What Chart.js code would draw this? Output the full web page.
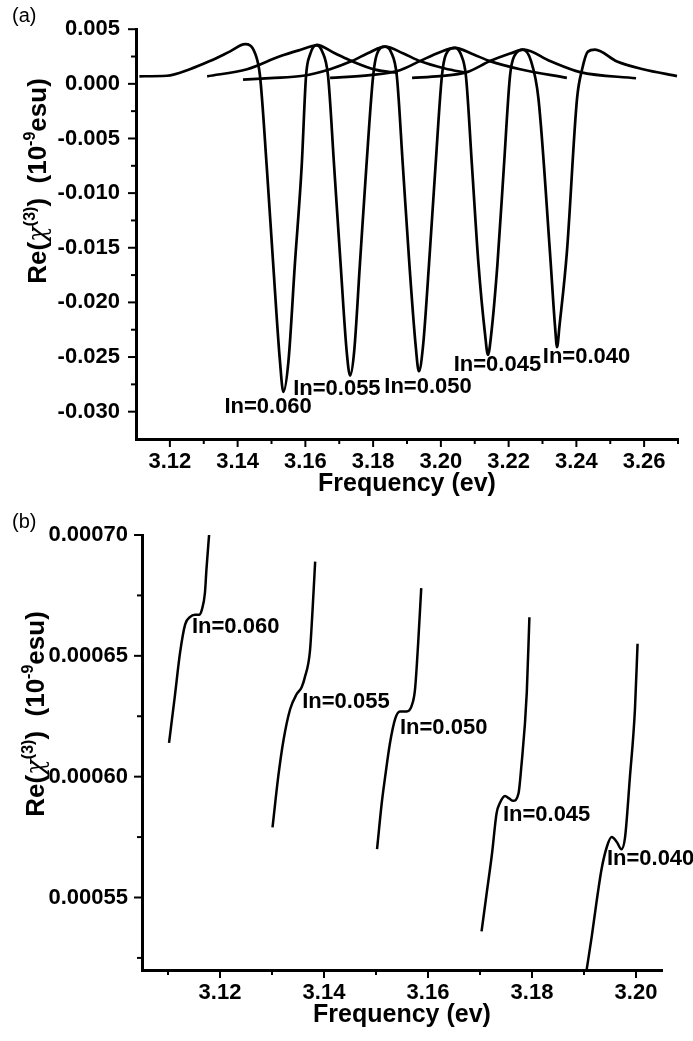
<!DOCTYPE html>
<html lang="en">
<head>
<meta charset="utf-8">
<title>Re(χ(3)) vs frequency</title>
<script src="https://cdn.jsdelivr.net/npm/chart.js@4.4.1/dist/chart.umd.min.js"></script>
<style>
  html, body { margin: 0; padding: 0; background: #fff; }
  .panel { position: absolute; left: 0; }
  #panelA { top: 0; }
  #panelB { top: 505px; }
</style>
</head>
<body>
<div class="panel" id="panelA"><canvas id="chartA" width="693" height="505"></canvas></div>
<div class="panel" id="panelB"><canvas id="chartB" width="693" height="536"></canvas></div>
<script>
// ---------- panel (a): full resonance, one curve per In content ----------
const freqA060 = [3.1110, 3.1191, 3.1259, 3.1318, 3.1378, 3.1422, 3.1451, 3.1466, 3.1486, 3.1505, 3.1525, 3.1535, 3.1550, 3.1569, 3.1589, 3.1602, 3.1614, 3.1633, 3.1687, 3.1737, 3.1806, 3.1873];
const valA060  = [0.00069, 0.00074, 0.00134, 0.00208, 0.00297, 0.00363, 0.00283, 0.00074, -0.0076, -0.0165, -0.0254, -0.0282, -0.0254, -0.0165, -0.0076, 0.00074, 0.0027, 0.00357, 0.0028, 0.00208, 0.0013, 0.0010];

const freqA055 = [3.1310, 3.1428, 3.1525, 3.1584, 3.1634, 3.1649, 3.1667, 3.1685, 3.1704, 3.1722, 3.1732, 3.1744, 3.1761, 3.1780, 3.1800, 3.1811, 3.1835, 3.1888, 3.1938, 3.2012, 3.2077];
const valA055  = [0.00069, 0.00134, 0.00253, 0.0031, 0.00352, 0.0030, 0.00071, -0.0076, -0.0165, -0.0245, -0.0267, -0.0245, -0.0165, -0.0076, 0.00071, 0.0027, 0.0034, 0.0028, 0.00208, 0.0014, 0.0010];

const freqA050 = [3.1416, 3.1496, 3.1593, 3.1673, 3.1737, 3.1791, 3.1835, 3.1853, 3.1870, 3.1888, 3.1907, 3.1926, 3.1935, 3.1947, 3.1965, 3.1984, 3.2003, 3.2015, 3.2042, 3.2095, 3.2145, 3.2234, 3.2372];
const valA050  = [0.00038, 0.00053, 0.00074, 0.00134, 0.00208, 0.0029, 0.0034, 0.0029, 0.00071, -0.0076, -0.0165, -0.0241, -0.0263, -0.0241, -0.0165, -0.0076, 0.00071, 0.0027, 0.0033, 0.0027, 0.00208, 0.00134, 0.00055];

const freqA045 = [3.1673, 3.1791, 3.1879, 3.1938, 3.1997, 3.2042, 3.2059, 3.2074, 3.2092, 3.2111, 3.2130, 3.2139, 3.2149, 3.2167, 3.2186, 3.2204, 3.2216, 3.2245, 3.2322, 3.2411, 3.2576];
const valA045  = [0.00055, 0.0008, 0.00125, 0.00208, 0.0029, 0.0033, 0.0027, 0.00071, -0.0076, -0.0165, -0.0228, -0.0248, -0.0228, -0.0165, -0.0076, 0.00071, 0.0025, 0.00313, 0.00208, 0.00107, 0.00051];

const freqA040 = [3.1915, 3.1997, 3.2077, 3.2145, 3.2204, 3.2242, 3.2266, 3.2288, 3.2322, 3.2337, 3.2343, 3.2350, 3.2372, 3.2402, 3.2417, 3.2434, 3.2455, 3.2520, 3.2597, 3.2697];
const valA040  = [0.00055, 0.0007, 0.00107, 0.00208, 0.00277, 0.00313, 0.0021, -0.00134, -0.0154, -0.0222, -0.0241, -0.0222, -0.0154, -0.00134, 0.00134, 0.00295, 0.00313, 0.00205, 0.00134, 0.00071];

const curveLabelsA = ['In=0.060', 'In=0.055', 'In=0.050', 'In=0.045', 'In=0.040'];
const labelFreqA = [3.149, 3.1693, 3.1962, 3.2167, 3.243];
const labelValA  = [-0.02955, -0.0279, -0.02773, -0.02571, -0.0250];

const xMajorA = [3.12, 3.14, 3.16, 3.18, 3.20, 3.22, 3.24, 3.26];
const xMinorA = [3.13, 3.15, 3.17, 3.19, 3.21, 3.23, 3.25, 3.27];
const xTickLabelsA = ['3.12', '3.14', '3.16', '3.18', '3.20', '3.22', '3.24', '3.26'];
const yMajorA = [-0.030, -0.025, -0.020, -0.015, -0.010, -0.005, 0.000, 0.005];
const yMinorA = [-0.0275, -0.0225, -0.0175, -0.0125, -0.0075, -0.0025, 0.0025];
const yTickLabelsA = ['-0.030', '-0.025', '-0.020', '-0.015', '-0.010', '-0.005', '0.000', '0.005'];

// ---------- panel (b): zoom on the low-frequency side ----------
const freqB060 = [3.1102, 3.1113, 3.1123, 3.1133, 3.1142, 3.1152, 3.1160, 3.1165, 3.1171, 3.1174, 3.1179];
const valB060  = [0.000614, 0.000633, 0.000651, 0.000663, 0.000666, 0.000667, 0.000667, 0.000669, 0.000676, 0.000686, 0.000700];

const freqB055 = [3.1301, 3.1312, 3.1322, 3.1335, 3.1347, 3.1357, 3.1363, 3.1373, 3.1378, 3.1383];
const valB055  = [0.000579, 0.000600, 0.000615, 0.000628, 0.000634, 0.000637, 0.000641, 0.000652, 0.000669, 0.000689];

const freqB050 = [3.1502, 3.1511, 3.1517, 3.1527, 3.1537, 3.1546, 3.1559, 3.1568, 3.1575, 3.1581, 3.1587];
const valB050  = [0.000570, 0.000589, 0.000599, 0.000614, 0.000624, 0.000627, 0.000627, 0.000629, 0.000636, 0.000655, 0.000678];

const freqB045 = [3.1703, 3.1713, 3.1723, 3.1732, 3.1738, 3.1748, 3.1756, 3.1764, 3.1774, 3.1779, 3.1790, 3.1795];
const valB045  = [0.000536, 0.000552, 0.000568, 0.000585, 0.000589, 0.000592, 0.000591, 0.000590, 0.000593, 0.000603, 0.000635, 0.000666];

const freqB040 = [3.1905, 3.1915, 3.1924, 3.1934, 3.1944, 3.1953, 3.1963, 3.1972, 3.1979, 3.1988, 3.1998, 3.2003];
const valB040  = [0.000520, 0.000534, 0.000548, 0.000562, 0.000571, 0.000575, 0.000573, 0.000570, 0.000575, 0.000599, 0.000628, 0.000655];

const curveLabelsB = ['In=0.060', 'In=0.055', 'In=0.050', 'In=0.045', 'In=0.040'];
const labelFreqB = [3.1146, 3.1358, 3.1546, 3.1744, 3.1944];
const labelValB  = [0.000662, 0.000631, 0.000620, 0.000584, 0.000566];

const xMajorB = [3.12, 3.14, 3.16, 3.18, 3.20];
const xMinorB = [3.11, 3.13, 3.15, 3.17, 3.19];
const xTickLabelsB = ['3.12', '3.14', '3.16', '3.18', '3.20'];
const yMajorB = [0.00055, 0.00060, 0.00065, 0.00070];
const yMinorB = [0.000525, 0.000575, 0.000625, 0.000675];
const yTickLabelsB = ['0.00055', '0.00060', '0.00065', '0.00070'];

const FONT = '"Liberation Sans", Arial, sans-serif';
Chart.defaults.font.family = FONT;
Chart.defaults.color = '#000';

// rotated y title with superscripts: Re(χ(3))  (10-9esu)
function drawYTitle(ctx, baseX, centerY, size) {
    const main = `bold ${size}px ${FONT}`;
    const sup = `bold ${Math.round(size * 0.62)}px ${FONT}`;
    const parts = [
        ['Re(', main, 0],
        ['\u03C7', `italic ${size}px "DejaVu Serif", serif`, 0],
        ['(3)', sup, -0.42 * size],
        [')', main, 0],
        ['  (10', main, 0],
        ['-9', sup, -0.42 * size],
        ['esu)', main, 0]
    ];
    ctx.save();
    ctx.translate(baseX, centerY);
    ctx.rotate(-Math.PI / 2);
    ctx.textAlign = 'left';
    ctx.textBaseline = 'alphabetic';
    let total = 0;
    parts.forEach(p => { ctx.font = p[1]; total += ctx.measureText(p[0]).width; });
    let cx = -total / 2;
    parts.forEach(p => {
        ctx.font = p[1];
        ctx.fillText(p[0], cx, p[2]);
        cx += ctx.measureText(p[0]).width;
    });
    ctx.restore();
}

// tick marks (outward, major longer), curve labels, panel letter, y title
const decorPlugin = {
    id: 'decor',
    afterDraw(chart, args, o) {
        const { ctx, chartArea: area, scales: { x, y } } = chart;
        ctx.save();
        ctx.strokeStyle = '#000';
        ctx.lineWidth = 2;
        x.ticks.forEach(t => {
            const px = x.getPixelForValue(t.value);
            const len = o.xMajor.includes(t.value) ? 8 : 5;
            ctx.beginPath();
            ctx.moveTo(px, area.bottom);
            ctx.lineTo(px, area.bottom + len);
            ctx.stroke();
        });
        y.ticks.forEach(t => {
            const py = y.getPixelForValue(t.value);
            const len = o.yMajor.includes(t.value) ? 8 : 5;
            ctx.beginPath();
            ctx.moveTo(area.left, py);
            ctx.lineTo(area.left - len, py);
            ctx.stroke();
        });

        ctx.fillStyle = '#000';
        ctx.font = `bold 22px ${FONT}`;
        ctx.textAlign = o.labelAlign;
        ctx.textBaseline = 'middle';
        o.labels.forEach((txt, i) => {
            ctx.fillText(txt, x.getPixelForValue(o.labelFreq[i]), y.getPixelForValue(o.labelVal[i]));
        });

        ctx.font = `20px ${FONT}`;
        ctx.textAlign = 'left';
        ctx.fillText(o.panel, 12, o.panelY);

        drawYTitle(ctx, o.titleX, o.titleY, 26);
        ctx.restore();
    }
};

function tickLabel(major, labels, v) {
    const i = major.indexOf(v);
    return i >= 0 ? labels[i] : '';
}

function makeChart(canvasId, p) {
    const datasets = p.series.map(s => ({
        data: s[0].map((f, i) => ({ x: f, y: s[1][i] })),
        borderColor: '#000',
        borderWidth: p.lineWidth,
        pointRadius: 0,
        fill: false,
        cubicInterpolationMode: 'monotone'
    }));
    const xTicks = [...p.xMajor, ...p.xMinor].sort((a, b) => a - b);
    const yTicks = [...p.yMajor, ...p.yMinor].sort((a, b) => a - b);

    return new Chart(document.getElementById(canvasId), {
        type: 'line',
        data: { datasets },
        options: {
            responsive: false,
            animation: false,
            devicePixelRatio: 1,
            layout: { padding: p.padding },
            plugins: {
                legend: { display: false },
                tooltip: { enabled: false },
                decor: {
                    xMajor: p.xMajor, yMajor: p.yMajor,
                    labels: p.labels, labelFreq: p.labelFreq, labelVal: p.labelVal,
                    labelAlign: p.labelAlign,
                    panel: p.panel, panelY: p.panelY,
                    titleX: p.titleX, titleY: p.titleY
                }
            },
            scales: {
                x: {
                    type: 'linear',
                    min: p.xMin,
                    max: p.xMax,
                    grid: { display: false, drawTicks: false },
                    border: { display: true, color: '#000', width: 3 },
                    afterBuildTicks: s => { s.ticks = xTicks.map(v => ({ value: v })); },
                    afterFit: s => { s.height = p.xAxisHeight; },
                    ticks: {
                        autoSkip: false, maxRotation: 0, minRotation: 0, padding: 10,
                        font: { size: 22, weight: 'bold' },
                        callback: v => tickLabel(p.xMajor, p.xLabels, v)
                    },
                    title: {
                        display: true,
                        text: 'Frequency (ev)',
                        font: { size: 25, weight: 'bold' },
                        padding: { top: 0, bottom: p.xTitlePad }
                    }
                },
                y: {
                    type: 'linear',
                    min: p.yMin,
                    max: p.yMax,
                    grid: { display: false, drawTicks: false },
                    border: { display: true, color: '#000', width: 3 },
                    afterBuildTicks: s => { s.ticks = yTicks.map(v => ({ value: v })); },
                    afterFit: s => { s.width = p.yAxisWidth; },
                    ticks: {
                        autoSkip: false, padding: p.yTickPad,
                        font: { size: 22, weight: 'bold' },
                        callback: v => tickLabel(p.yMajor, p.yLabels, v)
                    }
                }
            }
        },
        plugins: [decorPlugin]
    });
}

makeChart('chartA', {
    series: [[freqA060, valA060], [freqA055, valA055], [freqA050, valA050], [freqA045, valA045], [freqA040, valA040]],
    lineWidth: 2.7,
    xMin: 3.11, xMax: 3.27, yMin: -0.0325, yMax: 0.005,
    xMajor: xMajorA, xMinor: xMinorA, xLabels: xTickLabelsA,
    yMajor: yMajorA, yMinor: yMinorA, yLabels: yTickLabelsA,
    padding: { left: 0, top: 19, right: 15, bottom: 0 },
    yAxisWidth: 136, xAxisHeight: 66, xTitlePad: 6, yTickPad: 16,
    labels: curveLabelsA, labelFreq: labelFreqA, labelVal: labelValA, labelAlign: 'center',
    panel: '(a)', panelY: 16, titleX: 46, titleY: 181
});

makeChart('chartB', {
    series: [[freqB060, valB060], [freqB055, valB055], [freqB050, valB050], [freqB045, valB045], [freqB040, valB040]],
    lineWidth: 2.5,
    xMin: 3.105, xMax: 3.205, yMin: 0.00052, yMax: 0.0007,
    xMajor: xMajorB, xMinor: xMinorB, xLabels: xTickLabelsB,
    yMajor: yMajorB, yMinor: yMinorB, yLabels: yTickLabelsB,
    padding: { left: 0, top: 30, right: 31, bottom: 0 },
    yAxisWidth: 142, xAxisHeight: 71, xTitlePad: 11, yTickPad: 14,
    labels: curveLabelsB, labelFreq: labelFreqB, labelVal: labelValB, labelAlign: 'left',
    panel: '(b)', panelY: 17, titleX: 44, titleY: 209
});
</script>
</body>
</html>
